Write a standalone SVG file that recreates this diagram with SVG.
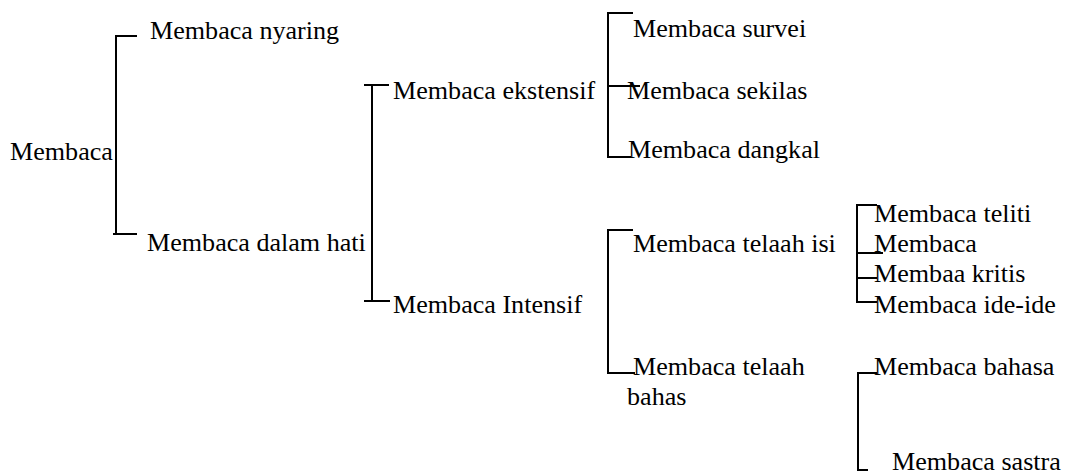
<svg xmlns="http://www.w3.org/2000/svg" width="1068" height="474" viewBox="0 0 1068 474">
<style>
text{font-family:"Liberation Serif","Times New Roman",serif;font-size:26.1px;fill:#000}
.c line,.c path{stroke:#000;stroke-width:2;fill:none}
</style>
<rect width="1068" height="474" fill="#fff"/>
<g class="c" id="connectors">
<path d="M137,36 H116 V234 H113 M116,234 H137"/>
<path d="M364,85 H389 M372,85 V301 M364,301 H390"/>
<path d="M633,13 H608 V157 H631 M608,86 H640"/>
<path d="M633,230 H608 V373 H635"/>
<path d="M877,205 H857 V302 H877 M857,253 H883 M857,278 H877"/>
<path d="M877,373 H858 V470 H868"/>
</g>
<g id="n-membaca"><text x="10" y="160">Membaca</text></g>
<g id="n-nyaring"><text x="150" y="39">Membaca nyaring</text></g>
<g id="n-dalam-hati"><text x="147" y="251">Membaca dalam hati</text></g>
<g id="n-ekstensif"><text x="393" y="99">Membaca ekstensif</text></g>
<g id="n-intensif"><text x="393" y="313">Membaca Intensif</text></g>
<g id="n-survei"><text x="633" y="37">Membaca survei</text></g>
<g id="n-sekilas"><text x="627" y="99">Membaca sekilas</text></g>
<g id="n-dangkal"><text x="628" y="158">Membaca dangkal</text></g>
<g id="n-telaah-isi"><text x="633" y="252">Membaca telaah isi</text></g>
<g id="n-telaah-bahas"><text x="633" y="375">Membaca telaah</text><text x="627" y="405">bahas</text></g>
<g id="n-teliti"><text x="874" y="222">Membaca teliti</text></g>
<g id="n-membaca2"><text x="874" y="252">Membaca</text></g>
<g id="n-kritis"><text x="874" y="282">Membaa kritis</text></g>
<g id="n-ide"><text x="874" y="313">Membaca ide-ide</text></g>
<g id="n-bahasa"><text x="874" y="375">Membaca bahasa</text></g>
<g id="n-sastra"><text x="892" y="470">Membaca sastra</text></g>
</svg>
